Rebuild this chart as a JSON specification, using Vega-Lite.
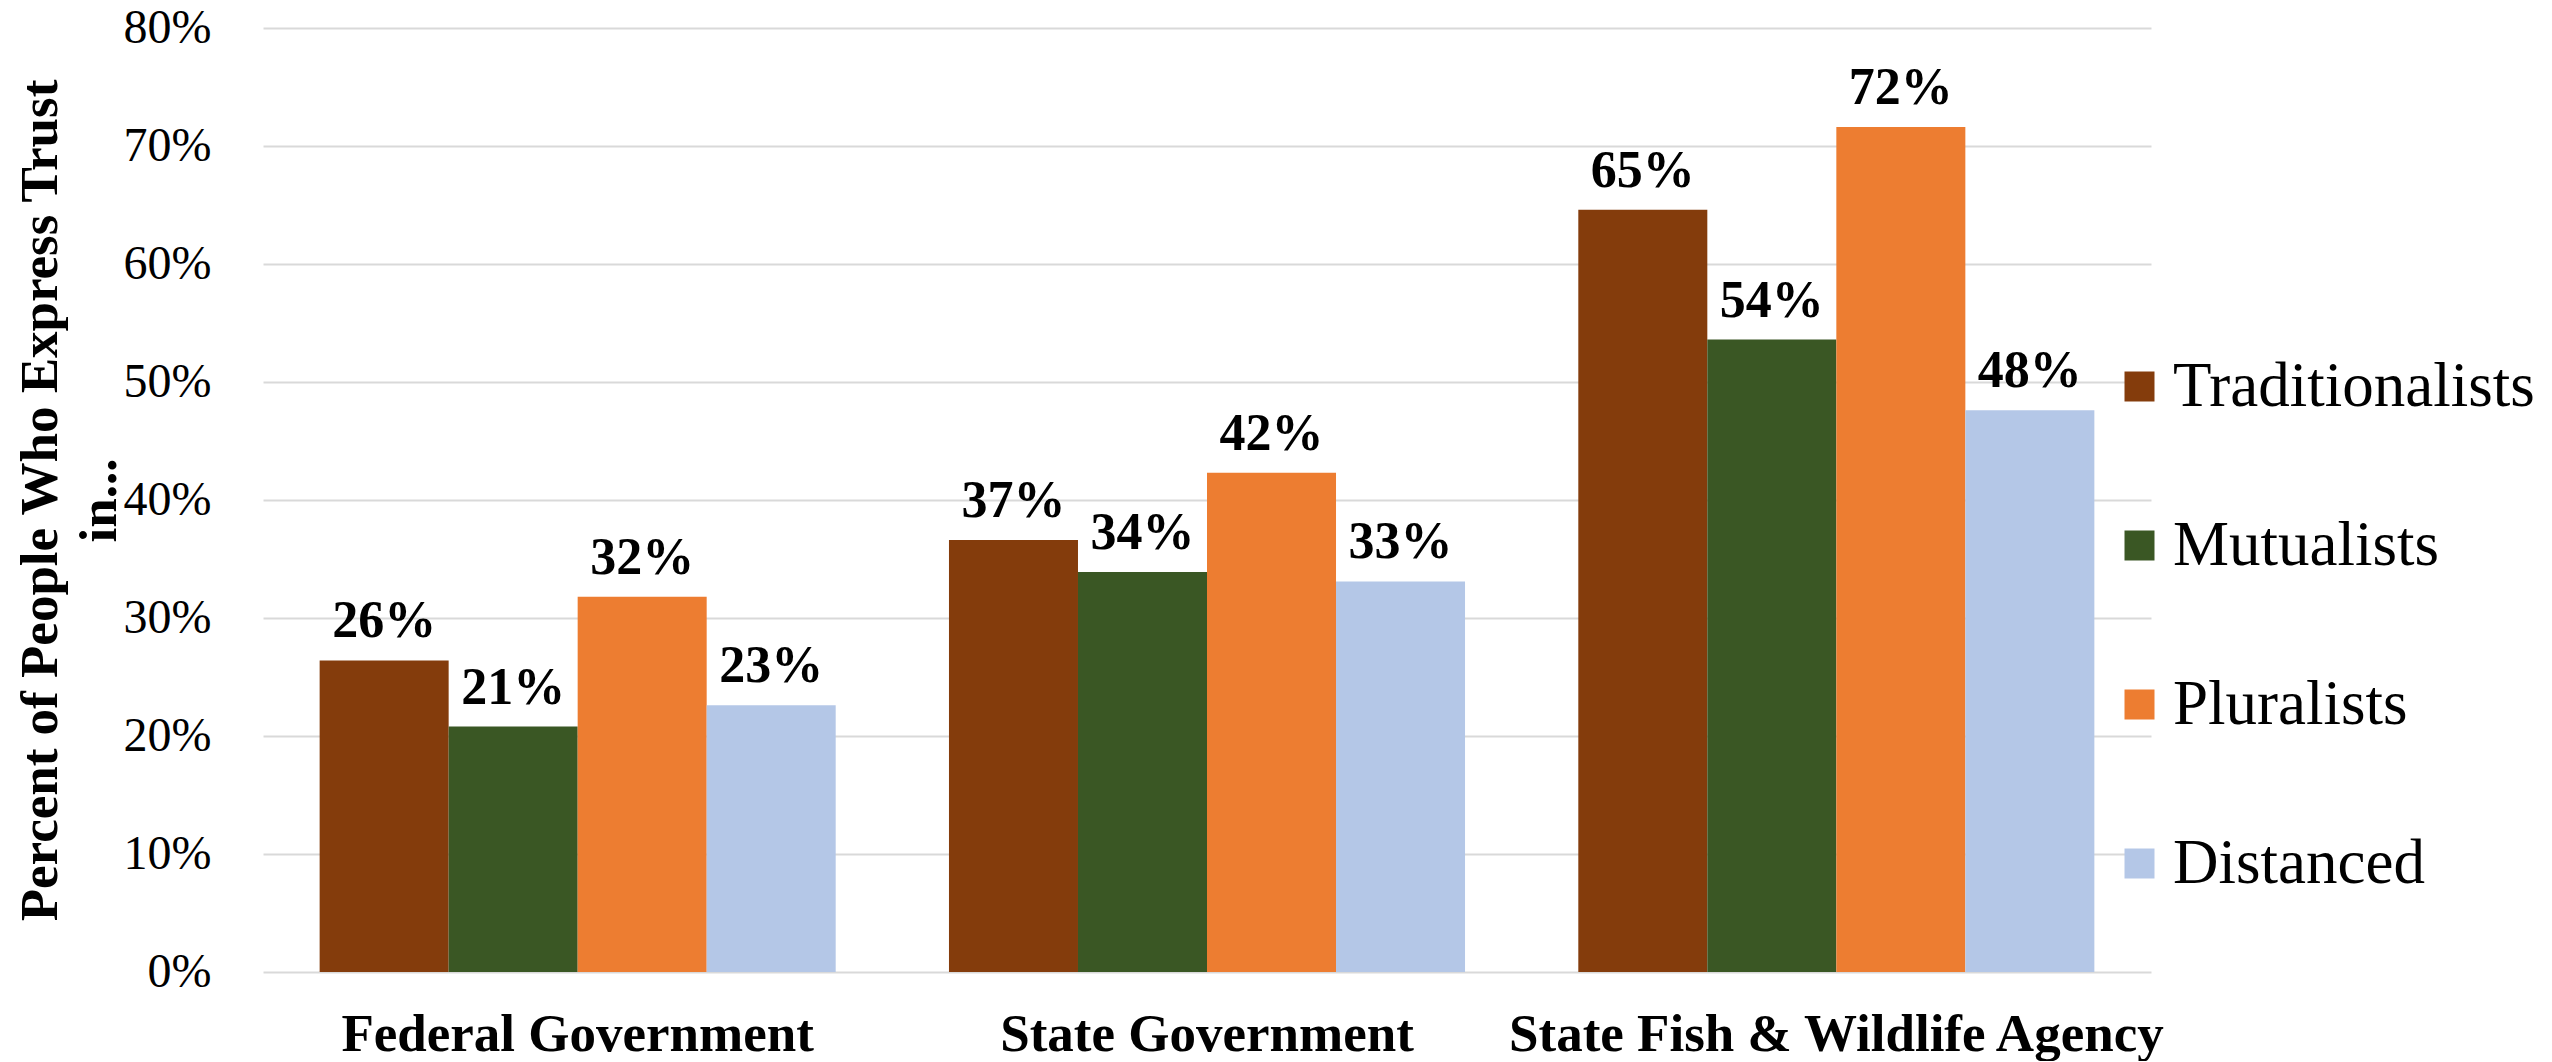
{
  "$schema": "https://vega.github.io/schema/vega-lite/v6.json",
  "width": 1888,
  "height": 944,
  "autosize": {"type": "none"},
  "padding": {"left": 263, "top": 28, "right": 401, "bottom": 89},
  "background": "white",
  "config": {
    "font": "Liberation Serif",
    "view": {"stroke": null}
  },
  "data": {
    "values": [
      {"agency": "Federal Government", "group": "Traditionalists", "value": 0.264},
      {"agency": "Federal Government", "group": "Mutualists", "value": 0.208},
      {"agency": "Federal Government", "group": "Pluralists", "value": 0.318},
      {"agency": "Federal Government", "group": "Distanced", "value": 0.226},
      {"agency": "State Government", "group": "Traditionalists", "value": 0.366},
      {"agency": "State Government", "group": "Mutualists", "value": 0.339},
      {"agency": "State Government", "group": "Pluralists", "value": 0.423},
      {"agency": "State Government", "group": "Distanced", "value": 0.331},
      {"agency": "State Fish & Wildlife Agency", "group": "Traditionalists", "value": 0.646},
      {"agency": "State Fish & Wildlife Agency", "group": "Mutualists", "value": 0.536},
      {"agency": "State Fish & Wildlife Agency", "group": "Pluralists", "value": 0.716},
      {"agency": "State Fish & Wildlife Agency", "group": "Distanced", "value": 0.476}
    ]
  },
  "encoding": {
    "x": {
      "field": "agency",
      "type": "nominal",
      "sort": ["Federal Government", "State Government", "State Fish & Wildlife Agency"],
      "scale": {"paddingInner": 0.18, "paddingOuter": 0.09},
      "axis": {
        "title": null,
        "labelAngle": 0,
        "labelFont": "Liberation Serif",
        "labelFontSize": 53,
        "labelFontWeight": "bold",
        "labelColor": "black",
        "labelPadding": 36,
        "labelLimit": 1000,
        "ticks": false,
        "tickSize": 0,
        "domain": false,
        "grid": false
      }
    },
    "xOffset": {
      "field": "group",
      "type": "nominal",
      "sort": ["Traditionalists", "Mutualists", "Pluralists", "Distanced"],
      "scale": {"paddingInner": 0, "paddingOuter": 0}
    },
    "y": {
      "field": "value",
      "type": "quantitative",
      "scale": {"domain": [0, 0.8], "nice": false},
      "axis": {
        "title": ["Percent of People Who Express Trust", "in..."],
        "titleFont": "Liberation Serif",
        "titleFontSize": 53,
        "titleFontWeight": "bold",
        "titleColor": "black",
        "titleLineHeight": 59,
        "titlePadding": -3,
        "values": [0, 0.1, 0.2, 0.3, 0.4, 0.5, 0.6, 0.7, 0.8],
        "format": ".0%",
        "labelFont": "Liberation Serif",
        "labelFontSize": 48,
        "labelColor": "black",
        "labelPadding": 52,
        "ticks": false,
        "tickSize": 0,
        "domain": false,
        "grid": true,
        "gridColor": "#D9D9D9",
        "gridWidth": 2
      }
    }
  },
  "layer": [
    {
      "mark": {"type": "bar"},
      "encoding": {
        "color": {
          "field": "group",
          "type": "nominal",
          "sort": ["Traditionalists", "Mutualists", "Pluralists", "Distanced"],
          "scale": {
            "domain": ["Traditionalists", "Mutualists", "Pluralists", "Distanced"],
            "range": ["#843C0C", "#3A5724", "#ED7D31", "#B4C7E7"]
          },
          "legend": {
            "title": null,
            "orient": "none",
            "legendX": 1845,
            "legendY": 327,
            "direction": "vertical",
            "symbolType": "square",
            "symbolSize": 900,
            "symbolStrokeWidth": 0,
            "labelFont": "Liberation Serif",
            "labelFontSize": 63,
            "labelColor": "black",
            "labelOffset": 2,
            "labelLimit": 1000,
            "rowPadding": 95
          }
        }
      }
    },
    {
      "mark": {
        "type": "text",
        "baseline": "alphabetic",
        "dy": -23,
        "font": "Liberation Serif",
        "fontSize": 52,
        "fontWeight": "bold",
        "color": "black"
      },
      "encoding": {
        "text": {"field": "value", "type": "quantitative", "format": ".0%"}
      }
    }
  ]
}
